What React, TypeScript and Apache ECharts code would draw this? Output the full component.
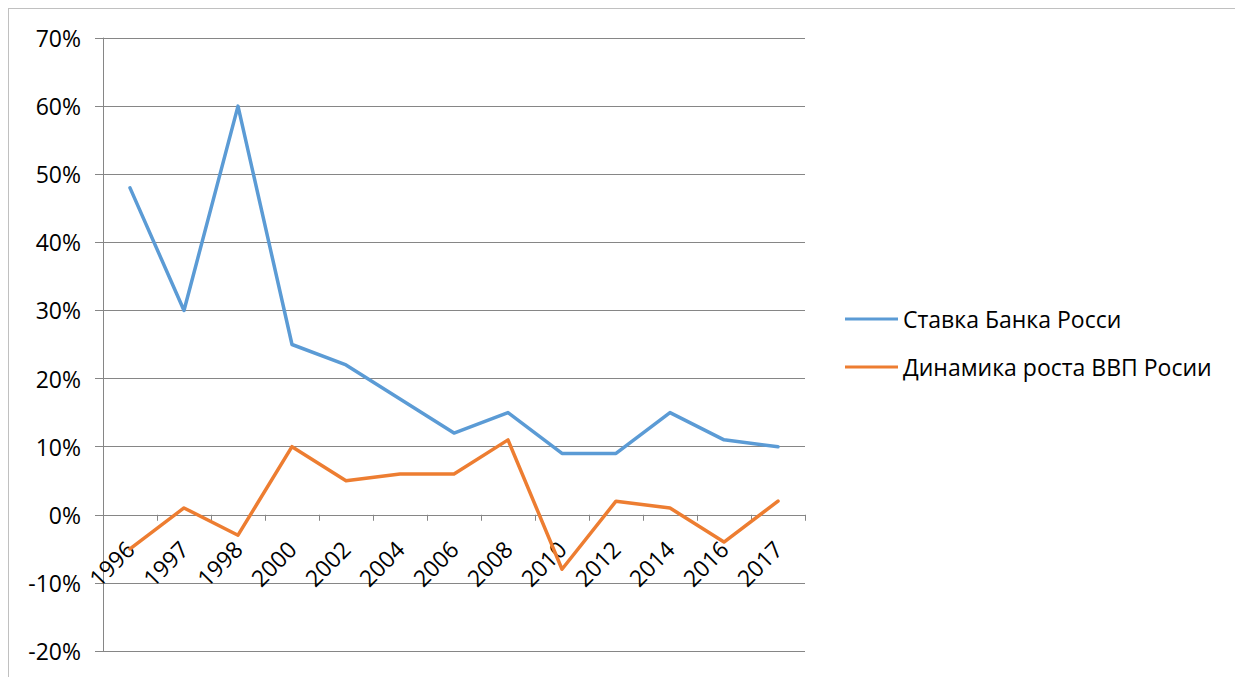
import React, { useEffect, useRef } from "react";
import * as echarts from "echarts";

const years = ["1996", "1997", "1998", "2000", "2002", "2004", "2006", "2008", "2010", "2012", "2014", "2016", "2017"];
const keyRate = [48, 30, 60, 25, 22, 17, 12, 15, 9, 9, 15, 11, 10];
const gdpGrowth = [-5, 1, -3, 10, 5, 6, 6, 11, -8, 2, 1, -4, 2];
const seriesNames = ["Ставка Банка Росси", "Динамика роста ВВП Росии"];
const yMin = -20;
const yMax = 70;
const FONT = "'Open Sans', 'Noto Sans', sans-serif";

export default function App() {
  const ref = useRef<HTMLDivElement>(null);
  useEffect(() => {
    if (!ref.current) return;
    const chart = echarts.init(ref.current, null, { renderer: "svg" });
    const gray = "#868686";
    const gridH = 613;
    // move the category axis up to the value 0
    const zeroOffset = -(gridH * (0 - yMin)) / (yMax - yMin);
    chart.setOption({
      animation: false,
      backgroundColor: "#ffffff",
      textStyle: { fontFamily: FONT },
      grid: { left: 94, top: 29, width: 702, height: gridH, containLabel: false, outerBoundsMode: "none" },
      legend: {
        orient: "vertical",
        left: 831,
        top: 293,
        itemWidth: 53,
        itemHeight: 14,
        itemGap: 24,
        icon: "path://M0,6 L53,6 L53,9 L0,9 Z",
        textStyle: { fontFamily: FONT, fontSize: 23, color: "#000", lineHeight: 24 },
        data: seriesNames,
      },
      xAxis: {
        type: "category",
        data: years,
        boundaryGap: true,
        offset: zeroOffset,
        axisLine: { show: true, onZero: false, lineStyle: { color: gray, width: 1 } },
        axisTick: { show: true, interval: 0, length: 6, lineStyle: { color: gray } },
        axisLabel: {
          interval: 0,
          rotate: 45,
          margin: 30,
          fontFamily: FONT,
          fontSize: 23,
          color: "#000",
        },
        splitLine: { show: false },
      },
      yAxis: {
        type: "value",
        min: yMin,
        max: yMax,
        interval: 10,
        axisLine: { show: true, lineStyle: { color: gray, width: 1 } },
        axisTick: { show: true, length: 8, lineStyle: { color: gray } },
        axisLabel: {
          formatter: "{value}%",
          margin: 22,
          fontFamily: FONT,
          fontSize: 23,
          color: "#000",
        },
        splitLine: { show: true, lineStyle: { color: gray, width: 1 } },
      },
      series: [
        {
          name: seriesNames[0],
          type: "line",
          data: keyRate,
          symbol: "none",
          color: "#5B9BD5",
          lineStyle: { width: 3.5, color: "#5B9BD5", cap: "round", join: "round" },
        },
        {
          name: seriesNames[1],
          type: "line",
          data: gdpGrowth,
          symbol: "none",
          color: "#ED7D31",
          lineStyle: { width: 3.5, color: "#ED7D31", cap: "round", join: "round" },
        },
      ],
    });
    return () => chart.dispose();
  }, []);
  return (
    <div
      ref={ref}
      style={{
        width: 1231,
        height: 669,
        boxSizing: "border-box",
        borderTop: "1px solid #c0c0c0",
        borderLeft: "1px solid #c0c0c0",
        borderRight: "1px solid #c0c0c0",
        background: "#fff",
      }}
    />
  );
}
